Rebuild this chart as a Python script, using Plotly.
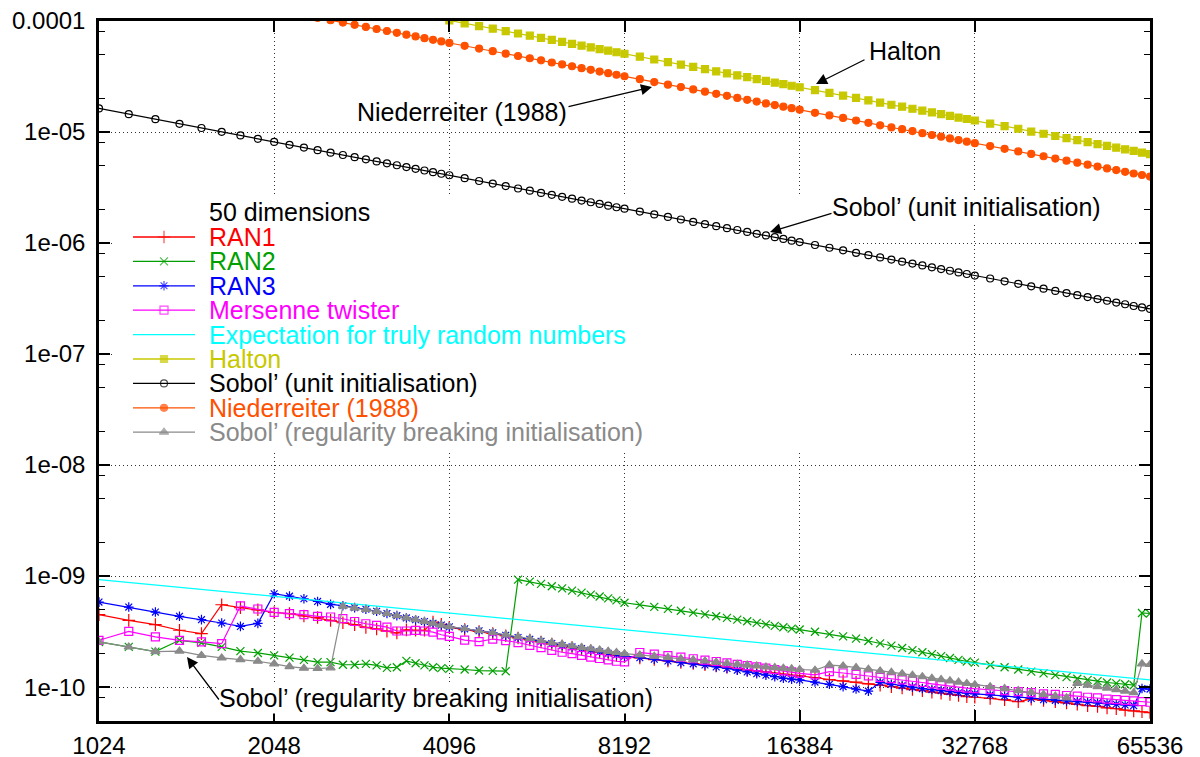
import math
import plotly.graph_objects as go

# ---------------- data ----------------
# number of points of the sequence (sampled positions)
N_GRID = [1024, 1152, 1280, 1408, 1536, 1664, 1792, 1920,
          2048, 2176, 2304, 2432, 2560, 2688, 2816, 2944, 3072, 3200, 3328, 3456, 3584, 3712, 3840, 3968,
          4096, 4352, 4608, 4864, 5120, 5376, 5632, 5888, 6144, 6400, 6656, 6912, 7168, 7424, 7680, 7936,
          8192, 8704, 9216, 9728, 10240, 10752, 11264, 11776, 12288, 12800, 13312, 13824, 14336, 14848, 15360, 15872,
          16384, 17408, 18432, 19456, 20480, 21504, 22528, 23552, 24576, 25600, 26624, 27648, 28672, 29696, 30720, 31744,
          32768, 34816, 36864, 38912, 40960, 43008, 45056, 47104, 49152, 51200, 53248, 55296, 57344, 59392, 61440, 63488,
          65536]

# pseudo-random generators, values in units of 1e-10
RAN1_E10 = [4.50, 3.99, 3.65, 3.25, 3.03, 5.52, 5.20, 4.97,
            4.70, 4.59, 4.37, 4.23, 3.99, 3.80, 3.65, 3.45, 3.34, 3.19, 3.07, 3.28, 3.25, 3.25, 3.85, 3.68,
            3.45, 3.30, 3.17, 3.04, 2.90, 2.77, 2.66, 2.55, 2.44, 2.34, 2.27, 2.19, 2.12, 2.05, 1.99, 1.93,
            1.88, 1.83, 1.77, 1.72, 1.67, 1.63, 1.59, 1.55, 1.51, 1.47, 1.43, 1.40, 1.37, 1.34, 1.31, 1.28,
            1.26, 1.22, 1.17, 1.14, 1.11, 1.07, 1.04, 1.01, 0.98, 0.95, 0.93, 0.90, 0.88, 0.86, 0.84, 0.82,
            0.81, 0.79, 0.77, 0.74, 0.78, 0.76, 0.74, 0.72, 0.70, 0.68, 0.67, 0.65, 0.64, 0.62, 0.61, 0.60,
            0.59]
RAN2_E10 = [2.55, 2.30, 2.09, 2.64, 2.50, 2.30, 2.11, 2.03,
            1.93, 1.84, 1.76, 1.68, 1.68, 1.59, 1.59, 1.62, 1.57, 1.49, 1.51, 1.72, 1.64, 1.57, 1.51, 1.48,
            1.46, 1.44, 1.41, 1.40, 1.39, 9.30, 8.90, 8.50, 8.10, 7.75, 7.40, 7.10, 6.80, 6.55, 6.30, 6.05,
            5.75, 5.50, 5.28, 5.07, 4.87, 4.69, 4.52, 4.35, 4.20, 4.05, 3.92, 3.79, 3.67, 3.56, 3.46, 3.36,
            3.30, 3.15, 3.00, 2.86, 2.73, 2.60, 2.48, 2.36, 2.25, 2.15, 2.06, 1.98, 1.90, 1.83, 1.76, 1.70,
            1.66, 1.58, 1.51, 1.44, 1.38, 1.33, 1.28, 1.23, 1.19, 1.16, 1.13, 1.10, 1.08, 1.06, 1.04, 4.65,
            4.60]
RAN3_E10 = [5.83, 5.26, 4.74, 4.34, 4.05, 3.78, 3.52, 3.75,
            6.93, 6.60, 6.25, 5.91, 5.56, 5.41, 5.20, 5.03, 4.82, 4.60, 4.40, 4.20, 4.04, 3.90, 3.76, 3.62,
            3.49, 3.35, 3.22, 3.09, 2.93, 2.80, 2.70, 2.59, 2.47, 2.37, 2.30, 2.22, 2.15, 2.08, 2.02, 1.96,
            1.90, 1.84, 1.78, 1.72, 1.66, 1.62, 1.58, 1.52, 1.47, 1.42, 1.37, 1.32, 1.28, 1.24, 1.20, 1.18,
            1.16, 1.11, 1.06, 1.01, 0.96, 0.92, 1.10, 1.06, 1.03, 1.00, 0.97, 0.95, 0.93, 0.91, 0.89, 0.88,
            0.87, 0.85, 0.83, 0.81, 0.79, 0.77, 0.76, 0.75, 0.74, 0.73, 0.72, 0.71, 0.70, 0.69, 0.68, 0.97,
            0.96]
MT_E10 = [2.64, 3.18, 2.83, 2.64, 2.55, 2.46, 5.38, 5.05,
          4.71, 4.59, 4.50, 4.34, 4.28, 4.13, 3.90, 3.72, 3.60, 3.47, 3.20, 3.20, 3.24, 3.20, 3.13, 2.96,
          2.86, 2.65, 2.57, 2.71, 2.62, 2.52, 2.38, 2.27, 2.14, 2.06, 2.00, 1.93, 1.86, 1.81, 1.76, 1.71,
          1.69, 2.05, 1.98, 1.92, 1.86, 1.80, 1.75, 1.70, 1.65, 1.60, 1.56, 1.52, 1.48, 1.44, 1.40, 1.37,
          1.33, 1.29, 1.38, 1.34, 1.30, 1.26, 1.22, 1.19, 1.16, 1.13, 1.10, 1.07, 1.04, 1.02, 1.00, 0.98,
          0.97, 0.95, 0.93, 0.91, 0.89, 0.87, 0.86, 0.84, 0.83, 0.81, 0.80, 0.78, 0.77, 0.76, 0.75, 0.74,
          0.73]
SOBOL_RB_E10 = [2.55, 2.30, 2.09, 2.11, 1.93, 1.83, 1.77, 1.71,
                1.62, 1.53, 1.48, 1.47, 1.49, 5.36, 5.15, 5.00, 4.80, 4.60, 4.40, 4.20, 4.05, 3.90, 3.76, 3.62,
                3.50, 3.36, 3.23, 3.10, 2.96, 2.84, 2.73, 2.62, 2.52, 2.43, 2.35, 2.28, 2.22, 2.16, 2.10, 2.05,
                2.00, 1.95, 1.90, 1.85, 1.80, 1.76, 1.72, 1.68, 1.64, 1.61, 1.58, 1.55, 1.52, 1.50, 1.48, 1.46,
                1.44, 1.42, 1.58, 1.55, 1.50, 1.45, 1.40, 1.36, 1.32, 1.28, 1.24, 1.20, 1.17, 1.14, 1.11, 1.08,
                1.05, 1.01, 0.97, 0.93, 0.90, 0.86, 0.83, 0.80, 1.08, 1.04, 1.01, 0.98, 0.95, 0.92, 0.89, 1.62,
                1.60]

# low-discrepancy sequences, values in units of 1e-6
SOBOL_UNIT_E6 = [16.3, 14.49, 13.04, 11.85, 10.87, 10.03, 9.31, 8.69,
                 8.15, 7.67, 7.24, 6.86, 6.52, 6.21, 5.93, 5.67, 5.43, 5.22, 5.02, 4.83, 4.66, 4.50, 4.35, 4.21,
                 4.08, 3.84, 3.62, 3.43, 3.26, 3.10, 2.96, 2.83, 2.72, 2.61, 2.51, 2.41, 2.33, 2.25, 2.17, 2.10,
                 2.04, 1.92, 1.81, 1.72, 1.63, 1.55, 1.48, 1.42, 1.36, 1.31, 1.26, 1.21, 1.17, 1.13, 1.09, 1.05,
                 1.02, 0.960, 0.907, 0.859, 0.816, 0.777, 0.742, 0.710, 0.680, 0.653, 0.628, 0.604, 0.583, 0.563, 0.544, 0.526,
                 0.509, 0.479, 0.452, 0.429, 0.407, 0.388, 0.370, 0.354, 0.339, 0.326, 0.313, 0.302, 0.291, 0.281, 0.271, 0.263,
                 0.255]
NIED_START = 2432   # first sampled N of the Niederreiter curve
NIED_E6 = [106.9, 101.6, 96.8, 92.4, 88.4, 84.7, 81.3, 78.2, 75.3, 72.6, 70.1, 67.7, 65.5,
           63.5, 59.8, 56.4, 53.5, 50.8, 48.4, 46.2, 44.2, 42.3, 40.6, 39.1, 37.6, 36.3, 35.0, 33.9, 32.8,
           31.8, 29.9, 28.2, 26.7, 25.4, 24.2, 23.1, 22.1, 21.2, 20.3, 19.5, 18.8, 18.1, 17.5, 16.9, 16.4,
           15.9, 14.9, 14.1, 13.4, 12.7, 12.1, 11.5, 11.0, 10.6, 10.2, 9.77, 9.40, 9.07, 8.75, 8.46, 8.19,
           7.94, 7.47, 7.06, 6.69, 6.35, 6.05, 5.77, 5.52, 5.29, 5.08, 4.88, 4.70, 4.54, 4.38, 4.23, 4.10,
           3.97]
HALTON_START = 4096
HALTON_E6 = [101.3, 95.3, 90.0, 85.3, 81.0, 77.2, 73.7, 70.5, 67.5, 64.8, 62.3, 60.0, 57.9, 55.9, 54.0, 52.3,
             50.7, 47.7, 45.0, 42.7, 40.5, 38.6, 36.8, 35.2, 33.8, 32.4, 31.2, 30.0, 28.9, 27.9, 27.0, 26.1,
             25.3, 23.8, 22.5, 21.3, 20.3, 19.3, 18.4, 17.6, 16.9, 16.2, 15.6, 15.0, 14.5, 14.0, 13.5, 13.1,
             12.7, 11.9, 11.3, 10.7, 10.1, 9.65, 9.21, 8.81, 8.44, 8.10, 7.79, 7.50, 7.23, 6.98, 6.75, 6.53,
             6.33]

# expectation for truly random numbers (straight line on log-log axes)
EXPECT_N = [1024, 65536]
EXPECT_VAL = [9.3e-10, 1.16e-10]

X_TICKS = [1024, 2048, 4096, 8192, 16384, 32768, 65536]
X_TICKTEXT = ["1024", "2048", "4096", "8192", "16384", "32768", "65536"]
Y_TICKS = [1e-4, 1e-5, 1e-6, 1e-7, 1e-8, 1e-9, 1e-10]
Y_TICKTEXT = ["0.0001", "1e-05", "1e-06", "1e-07", "1e-08", "1e-09", "1e-10"]
Y_MINOR = [m * 10.0 ** k for k in range(-11, -4) for m in (2, 5, 8)]

LEGEND_TITLE = "50 dimensions"
NAMES = ["RAN1", "RAN2", "RAN3", "Mersenne twister", "Expectation for truly random numbers",
         "Halton", "Sobol’ (unit initialisation)", "Niederreiter (1988)",
         "Sobol’ (regularity breaking initialisation)"]

# ---------------- styling ----------------
FONT = "Liberation Sans, Arial, Helvetica, sans-serif"
TXT = 25
COLORS = ["#ff0000", "#00a000", "#0000ff", "#ff00ff", "#00ffff",
          "#c8c800", "#000000", "#ff5000", "#8a8a8a"]
SYMBOLS = ["cross-thin-open", "x-thin-open", "asterisk-open", "square-open", None,
           "square", "circle-open", "circle", "triangle-up"]
MSIZES = [9, 8, 8, 8, 0, 7, 7, 7, 8]

Y_LOG_RANGE = [math.log10(4.95e-11), -4]
X_LOG_RANGE = [math.log10(1024), math.log10(65536)]

def sub_from(start):
    return N_GRID[N_GRID.index(start):]

series_x = [N_GRID, N_GRID, N_GRID, N_GRID, EXPECT_N,
            sub_from(HALTON_START), N_GRID, sub_from(NIED_START), N_GRID]
series_y = [[v * 1e-10 for v in RAN1_E10],
            [v * 1e-10 for v in RAN2_E10],
            [v * 1e-10 for v in RAN3_E10],
            [v * 1e-10 for v in MT_E10],
            EXPECT_VAL,
            [v * 1e-6 for v in HALTON_E6],
            [v * 1e-6 for v in SOBOL_UNIT_E6],
            [v * 1e-6 for v in NIED_E6],
            [v * 1e-10 for v in SOBOL_RB_E10]]

fig = go.Figure()

# opaque key background (above the grid, below every curve)
KEY_BOX_X = [1091, 19836, 19836, 1091, 1091]
KEY_BOX_Y = [1.367e-8, 1.367e-8, 2.653e-6, 2.653e-6, 1.367e-8]
fig.add_trace(go.Scatter(x=KEY_BOX_X, y=KEY_BOX_Y, mode="lines", fill="toself",
                         fillcolor="white", line=dict(width=0, color="white"),
                         showlegend=False, hoverinfo="skip"))

for i in range(len(NAMES)):
    sym = SYMBOLS[i]
    if sym is None:
        fig.add_trace(go.Scatter(x=series_x[i], y=series_y[i], mode="lines", name=NAMES[i],
                                 line=dict(color=COLORS[i], width=1.3), showlegend=False))
    else:
        fig.add_trace(go.Scatter(x=series_x[i], y=series_y[i], mode="lines+markers", name=NAMES[i],
                                 line=dict(color=COLORS[i], width=1.2),
                                 marker=dict(symbol=sym, size=MSIZES[i], color=COLORS[i],
                                             line=dict(color=COLORS[i], width=1.2)),
                                 showlegend=False))

# invisible carriers for the minor-tick axes (left and right)
for ya in ("y3", "y4"):
    fig.add_trace(go.Scatter(x=[2048], y=[1e-6], xaxis="x", yaxis=ya, mode="markers",
                             marker=dict(size=1, opacity=0), showlegend=False, hoverinfo="skip"))

# ---- hand-drawn key (pixel coordinates through an invisible overlay axis pair) ----
KEY_Y0, KEY_DY = 237, 24.4
KEY_X0, KEY_X1, KEY_XM, KEY_TX = 133, 195, 164, 207
annotations = []
annotations.append(dict(x=KEY_TX, y=KEY_Y0 - 25, xref="x2", yref="y2", text=LEGEND_TITLE,
                        showarrow=False, xanchor="left", yanchor="middle",
                        font=dict(family=FONT, size=TXT, color="black")))
for i, name in enumerate(NAMES):
    yy = KEY_Y0 + i * KEY_DY
    sym = SYMBOLS[i]
    fig.add_trace(go.Scatter(
        x=[KEY_X0, KEY_XM, KEY_X1], y=[yy, yy, yy], xaxis="x2", yaxis="y2",
        mode="lines" if sym is None else "lines+markers",
        line=dict(color=COLORS[i], width=1.3),
        marker=dict(symbol=sym if sym else "circle", size=[0, MSIZES[i], 0], color=COLORS[i],
                    line=dict(color=COLORS[i], width=1.2)),
        showlegend=False, hoverinfo="skip"))
    annotations.append(dict(x=KEY_TX, y=yy, xref="x2", yref="y2", text=name, showarrow=False,
                            xanchor="left", yanchor="middle",
                            font=dict(family=FONT, size=TXT, color=COLORS[i])))

# ---- curve labels with arrows ----
labels = [("Halton", 905, 51, None),
          ("Niederreiter (1988)", 462, 112, None),
          ("Sobol’ (unit initialisation)", 966, 207, "white"),
          ("Sobol’ (regularity breaking initialisation)", 436, 698, "white")]
for txt, lx, ly, bg in labels:
    d = dict(x=lx, y=ly, xref="x2", yref="y2", text=txt, showarrow=False,
             xanchor="center", yanchor="middle", font=dict(family=FONT, size=TXT, color="black"))
    if bg:
        d["bgcolor"] = bg
    annotations.append(d)

arrows = [(816, 84, 866, 59), (652, 87, 567, 107), (770, 232, 833, 213), (187, 657, 220, 701)]
for hx, hy, tx, ty in arrows:
    annotations.append(dict(x=hx, y=hy, ax=tx, ay=ty, xref="x2", yref="y2", axref="x2", ayref="y2",
                            text="", showarrow=True, arrowhead=2, arrowsize=1.7, arrowwidth=1.3,
                            arrowcolor="black"))

minor_axis = dict(overlaying="y", type="log", range=Y_LOG_RANGE, anchor="x",
                  tickmode="array", tickvals=Y_MINOR, ticks="inside", ticklen=6,
                  tickwidth=1.2, tickcolor="black", showticklabels=False,
                  showgrid=False, zeroline=False, showline=False, fixedrange=True,
                  automargin=False)

fig.update_layout(
    template="none",
    width=1200, height=757,
    margin=dict(l=99, r=50, t=21, b=36, autoexpand=False),
    plot_bgcolor="white", paper_bgcolor="white",
    showlegend=False,
    font=dict(family=FONT, size=24, color="black"),
    annotations=annotations,
    xaxis=dict(type="log", range=X_LOG_RANGE, automargin=False,
               tickmode="array", tickvals=X_TICKS, ticktext=X_TICKTEXT,
               showgrid=True, gridcolor="#333333", gridwidth=1, griddash="1px,3px",
               ticks="inside", ticklen=11, tickwidth=1.5, tickcolor="black",
               showline=True, linecolor="black", linewidth=2.5, mirror="ticks",
               zeroline=False, ticklabelstandoff=1,
               tickfont=dict(family=FONT, size=24, color="black")),
    yaxis=dict(type="log", range=Y_LOG_RANGE, automargin=False,
               tickmode="array", tickvals=Y_TICKS, ticktext=Y_TICKTEXT,
               showgrid=True, gridcolor="#333333", gridwidth=1, griddash="1px,3px",
               ticks="inside", ticklen=11, tickwidth=1.5, tickcolor="black",
               showline=True, linecolor="black", linewidth=2.5, mirror="ticks",
               zeroline=False, ticklabelstandoff=6,
               tickfont=dict(family=FONT, size=24, color="black")),
    yaxis3=dict(minor_axis, side="left"),
    yaxis4=dict(minor_axis, side="right"),
    xaxis2=dict(overlaying="x", range=[99, 1150], visible=False, fixedrange=True, automargin=False),
    yaxis2=dict(overlaying="y", range=[721, 21], visible=False, fixedrange=True, automargin=False),
)

fig.write_html("out.html")
